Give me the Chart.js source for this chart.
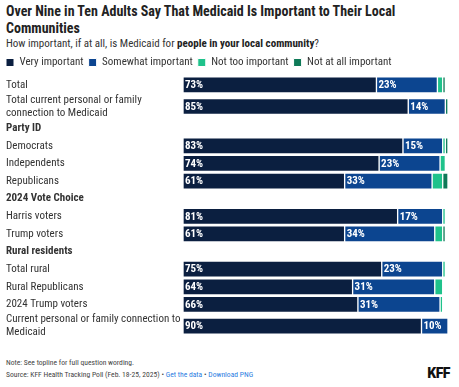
<!DOCTYPE html>
<html>
<head>
<meta charset="utf-8">
<script src="https://cdn.jsdelivr.net/npm/chart.js@4.4.1/dist/chart.umd.min.js"></script>
<style>
  body { margin: 0; background: #fff; font-family: "Roboto Condensed", sans-serif; color: #222; }
  #wrap { position: relative; width: 459px; height: 387px; overflow: hidden; }
  h1 { position: absolute; left: 6px; top: 3px; width: 400px; margin: 0; font-size: 14px; line-height: 17px; font-weight: 700; color: #222; }
  .sub { position: absolute; left: 6px; top: 37px; margin: 0; font-size: 11px; color: #333; }
  .sub b { font-weight: 700; color: #222; }
  #box { position: absolute; left: 0; top: 52px; width: 459px; height: 287px; }
  .note { position: absolute; left: 6px; top: 357px; font-size: 7.6px; line-height: 12px; color: #444; }
  .note a { color: #2a7de1; text-decoration: none; }
  .logo { position: absolute; right: 9px; top: 365px; font-family: Roboto, sans-serif; font-size: 14px; font-weight: 900; color: #111; letter-spacing: -0.5px; }
</style>
</head>
<body>
<div id="wrap">
  <h1>Over Nine in Ten Adults Say That Medicaid Is Important to Their Local Communities</h1>
  <p class="sub">How important, if at all, is Medicaid for <b>people in your local community</b>?</p>
  <div id="box"><canvas id="chart"></canvas></div>
  <div class="note">Note: See topline for full question wording.<br>Source: KFF Health Tracking Poll (Feb. 18-25, 2025) &bull; <a href="#">Get the data</a> &bull; <a href="#">Download PNG</a></div>
  <div class="logo">KFF</div>
</div>
<script>
// rows, top to bottom (headers have no bars)
const labels = ['Total', 'Total current personal or family connection to Medicaid', 'Party ID', 'Democrats', 'Independents', 'Republicans',
  '2024 Vote Choice', 'Harris voters', 'Trump voters', 'Rural residents', 'Total rural', 'Rural Republicans', '2024 Trump voters',
  'Current personal or family connection to Medicaid'];
const headers = ['Party ID', '2024 Vote Choice', 'Rural residents'];

const veryImportant     = [73, 85, null, 83, 74, 61, null, 81, 61, null, 75, 64, 66, 90];
const somewhatImportant = [23, 14, null, 15, 23, 33, null, 17, 34, null, 23, 31, 31, 10];
const notTooImportant   = [2, 0, null, 1, 2, 4, null, 1, 3, null, 1, 3, 1, 0];
const notAtAllImportant = [1, 1, null, 1, 0, 2, null, 0, 1, null, 0, 0, 0, 0];

const seriesNames = ['Very important', 'Somewhat important', 'Not too important', 'Not at all important'];
const colors = ['#0b1f40', '#0c4590', '#1fc28b', '#0f7a58'];

const FONT = 'Roboto Condensed';
const LABEL_SIZE = 11;

// wrap long labels to fit the label column
const measure = document.createElement('canvas').getContext('2d');
function wrap(text, maxW, bold) {
  measure.font = (bold ? 'bold ' : '') + LABEL_SIZE + 'px "' + FONT + '"';
  const words = text.split(' ');
  const lines = [];
  let line = '';
  words.forEach(w => {
    const t = line ? line + ' ' + w : w;
    if (line && measure.measureText(t).width > maxW) { lines.push(line); line = w; } else line = t;
  });
  lines.push(line);
  return lines;
}
const wrapped = labels.map(l => wrap(l, 176, headers.includes(l)));

// row centres in "row units": a two-line label takes a taller row
const rowPos = [];
let acc = 0;
wrapped.forEach(lines => {
  const h = lines.length > 1 ? 1.46 : 1;
  rowPos.push(acc + h / 2);
  acc += h;
});

const seriesData = [veryImportant, somewhatImportant, notTooImportant, notAtAllImportant];
const datasets = seriesData.map((vals, i) => ({
  label: seriesNames[i],
  data: vals.map((v, j) => ({ x: v, y: rowPos[j] })).filter(p => p.x !== null),
  backgroundColor: colors[i],
  borderColor: '#fff',
  borderWidth: 1,
  borderSkipped: false,
  barThickness: 16
}));

const valueLabels = {
  id: 'valueLabels',
  afterDatasetsDraw(chart) {
    const ctx = chart.ctx;
    ctx.save();
    ctx.font = 'bold 11px "' + FONT + '"';
    ctx.fillStyle = '#fff';
    ctx.textBaseline = 'middle';
    [0, 1].forEach(di => {
      chart.getDatasetMeta(di).data.forEach((bar, k) => {
        const v = chart.data.datasets[di].data[k].x;
        if (!v) return;
        ctx.fillText(v + '%', bar.base + 2, bar.y + 0.5);
      });
    });
    ctx.restore();
  }
};

// tighter legend: less space under it, and flush with the left edge
const legendTweak = {
  id: 'legendTweak',
  afterInit(chart) {
    const lg = chart.legend;
    const fit = lg.fit;
    lg.fit = function () { fit.call(this); this.height = 24; };
    const draw = lg.draw;
    lg.draw = function () {
      const ctx = this.ctx;
      ctx.save();
      ctx.translate(-5, 0);
      draw.call(this);
      ctx.restore();
    };
  }
};

new Chart(document.getElementById('chart'), {
  type: 'bar',
  data: { datasets },
  plugins: [valueLabels, legendTweak],
  options: {
    indexAxis: 'y',
    responsive: true,
    maintainAspectRatio: false,
    animation: false,
    layout: { padding: { left: 6, right: 11, top: 0, bottom: 0 } },
    plugins: {
      legend: {
        position: 'top',
        align: 'start',
        labels: { boxWidth: 8, boxHeight: 8, padding: 5, color: '#333', font: { family: FONT, size: 11 } }
      },
      tooltip: { enabled: false }
    },
    scales: {
      x: { stacked: true, min: 0, max: 100, display: false },
      y: {
        type: 'linear',
        stacked: true,
        reverse: true,
        offset: false,
        min: 0,
        max: acc,
        grid: { display: false },
        border: { display: false },
        afterBuildTicks(scale) { scale.ticks = rowPos.map(v => ({ value: v })); },
        afterFit(scale) {
          scale.width = 177;
          scale.paddingTop = 0;
          scale.paddingBottom = 0;
        },
        ticks: {
          autoSkip: false,
          crossAlign: 'far',
          padding: 0,
          color: '#333',
          font: ctx => ({ family: FONT, size: LABEL_SIZE, lineHeight: 1.2, weight: headers.includes(labels[ctx.index]) ? 'bold' : 'normal' }),
          callback: (v, i) => wrapped[i]
        }
      }
    }
  }
});
</script>
</body>
</html>
